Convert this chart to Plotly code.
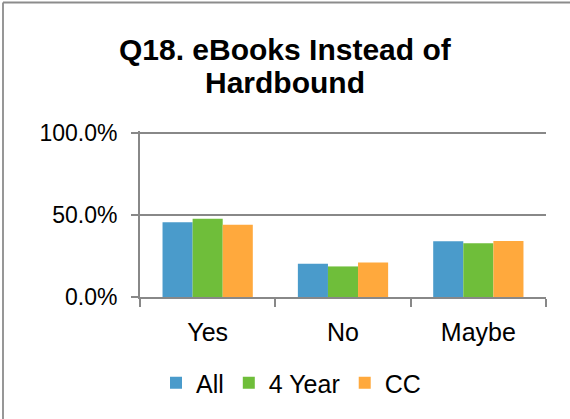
import plotly.graph_objects as go

categories = ["Yes", "No", "Maybe"]
series_names = ["All", "4 Year", "CC"]
all_vals = [45.5, 20.2, 33.9]
four_year_vals = [47.6, 18.6, 32.7]
cc_vals = [43.9, 21.0, 34.0]
colors = ["#4A9BCB", "#6FBE3A", "#FFA93D"]
y_ticks = [0, 50, 100]
y_tick_labels = ["0.0%", "50.0%", "100.0%"]
title_lines = ["Q18. eBooks Instead of", "Hardbound"]

W, H = 570, 419
L, R, T, B = 140, 24, 131, 122
pw, ph = W - L - R, H - T - B


def px_x(px):
    return (px - L) / pw


def px_y(py):
    return (H - B - py) / ph


fig = go.Figure()
for name, vals, col in zip(series_names, [all_vals, four_year_vals, cc_vals], colors):
    fig.add_trace(go.Bar(x=categories, y=vals, name=name, marker_color=col,
                         marker_line_width=0))

font = "Liberation Sans, Arial, sans-serif"
axis_col = "#888888"
fig.update_layout(
    width=W, height=H,
    margin=dict(l=L, r=R, t=T, b=B),
    paper_bgcolor="white", plot_bgcolor="white",
    font=dict(family=font, size=25, color="#000000"),
    barmode="group", bargap=0.333, bargroupgap=0,
    showlegend=True,
    legend=dict(orientation="h", xref="container", x=291 / W, xanchor="center",
                yref="container", y=1 - 383 / H, yanchor="middle",
                font=dict(size=25), itemwidth=30, tracegroupgap=0,
                bgcolor="rgba(0,0,0,0)"),
    xaxis=dict(showline=True, linecolor=axis_col, linewidth=1.8,
               ticks="outside", ticklen=8, tickcolor=axis_col, tickwidth=1.8,
               tickson="boundaries", showgrid=False, ticklabelstandoff=12,
               tickfont=dict(size=25)),
    yaxis=dict(range=[0, 101], tickvals=y_ticks, ticktext=y_tick_labels,
               showline=True, linecolor=axis_col, linewidth=1.8,
               ticks="outside", ticklen=7, tickcolor=axis_col, tickwidth=1.8,
               showgrid=True, gridcolor=axis_col, gridwidth=1.8,
               zeroline=False, ticklabelstandoff=9, tickfont=dict(size=23)),
)

for txt, py in zip(title_lines, [50, 82]):
    fig.add_annotation(text="<b>" + txt + "</b>", xref="paper", yref="paper",
                       x=px_x(285), y=px_y(py), xanchor="center", yanchor="middle",
                       showarrow=False, font=dict(family=font, size=30, color="#000000"))

border = dict(color="#8C8C8C", width=1.8)
fig.add_shape(type="line", xref="paper", yref="paper",
              x0=px_x(3), x1=px_x(3), y0=px_y(H), y1=px_y(2.5), line=border, layer="above")
fig.add_shape(type="line", xref="paper", yref="paper",
              x0=px_x(3), x1=px_x(W), y0=px_y(2.5), y1=px_y(2.5), line=border, layer="above")

fig.write_html("out.html", config={"displayModeBar": False},
               post_script="document.body.style.margin='0';")
